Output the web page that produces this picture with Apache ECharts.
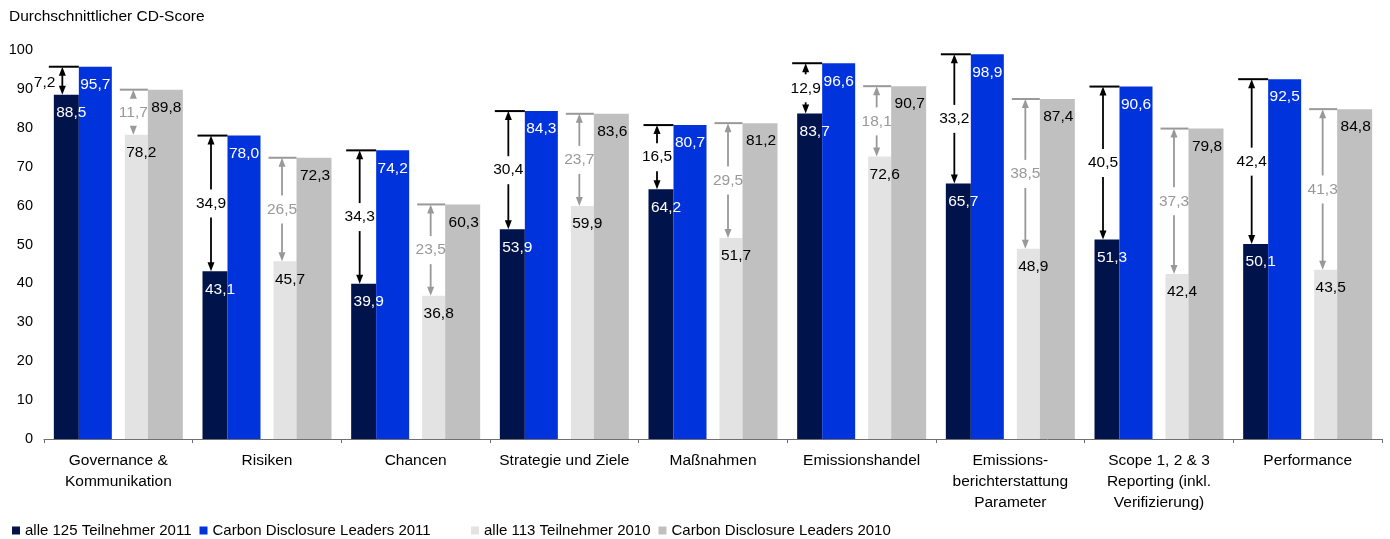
<!DOCTYPE html>
<html lang="de">
<head>
<meta charset="utf-8">
<title>Durchschnittlicher CD-Score</title>
<script src="https://cdn.jsdelivr.net/npm/echarts@6/dist/echarts.min.js"></script>
<style>
  html, body { margin: 0; padding: 0; background: #fff; }
  #chart { width: 1390px; height: 539px; }
</style>
</head>
<body>
<div id="chart"></div>
<script>
// Kategorien (Zeilenumbrüche wie in der Beschriftung)
const categories = [
  'Governance &\nKommunikation',
  'Risiken',
  'Chancen',
  'Strategie und Ziele',
  'Maßnahmen',
  'Emissionshandel',
  'Emissions-\nberichterstattung\nParameter',
  'Scope 1, 2 & 3\nReporting (inkl.\nVerifizierung)',
  'Performance'
];

// Durchschnittliche CD-Scores je Gruppe
const all2011      = [88.5, 43.1, 39.9, 53.9, 64.2, 83.7, 65.7, 51.3, 50.1];
const leaders2011  = [95.7, 78.0, 74.2, 84.3, 80.7, 96.6, 98.9, 90.6, 92.5];
const all2010      = [78.2, 45.7, 36.8, 59.9, 51.7, 72.6, 48.9, 42.4, 43.5];
const leaders2010  = [89.8, 72.3, 60.3, 83.6, 81.2, 90.7, 87.4, 79.8, 84.8];

// Ausgewiesene Abstände zwischen Leaders und allen Teilnehmern
const gap2011 = [7.2, 34.9, 34.3, 30.4, 16.5, 12.9, 33.2, 40.5, 42.4];
const gap2010 = [11.7, 26.5, 23.5, 23.7, 29.5, 18.1, 38.5, 37.3, 41.3];

// Legendeneinträge
const seriesNames = [
  'alle 125 Teilnehmer 2011',
  'Carbon Disclosure Leaders 2011',
  'alle 113 Teilnehmer 2010',
  'Carbon Disclosure Leaders 2010'
];

// Y-Achse
const yMin = 0, yMax = 100, yStep = 10;

// ---- Darstellung ----
const FONT = '"Liberation Sans", Arial, Helvetica, sans-serif';
const FS = 15.5;
const COLORS = ['#00134A', '#0033DC', '#E3E3E3', '#C0C0C0'];
const BAR_W = [25, 33, 13, 23, 35];        // dunkel, blau, Abstand, hellgrau, grau
const TOTAL_W = BAR_W.reduce((a, b) => a + b, 0);
// linke Kante jedes Balkens relativ zur Kategoriemitte
const barLeft = [];
{
  let x = -TOTAL_W / 2;
  BAR_W.forEach(w => { barLeft.push(x); x += w; });
}

const fmt = v => Number(v).toFixed(1).replace('.', ',');

function barSeries(name, data, color, width, labelColor, labelShift) {
  return {
    name: name,
    type: 'bar',
    data: data,
    barWidth: width,
    barGap: '0%',
    itemStyle: { color: color },
    animation: false,
    label: {
      show: true,
      position: 'insideTop',
      distance: 10,
      offset: [labelShift, 0],
      color: labelColor,
      fontFamily: FONT,
      fontSize: FS,
      formatter: p => fmt(p.value)
    }
  };
}

// Doppelpfeil vom niedrigeren zum höheren Balken mit Abstandswert
function gapSeries(low, high, gaps, lowIdx, highIdx, color) {
  const data = low.map((v, i) => [i, v, high[i], gaps[i]]);
  return {
    type: 'custom',
    z: 5,
    silent: true,
    animation: false,
    data: data,
    encode: { x: 0, y: [1, 2] },
    renderItem: function (params, api) {
      const i = api.value(0);
      const pLow = api.coord([i, api.value(1)]);
      const pHigh = api.coord([i, api.value(2)]);
      const cx = pLow[0];
      const lowLeft = cx + barLeft[lowIdx];
      const highLeft = cx + barLeft[highIdx];
      const ax = lowLeft + 8.5;
      const yT = pHigh[1];
      const yB = pLow[1];
      const head = 9, hw = 3.5;
      const text = fmt(api.value(3));
      const font = FS + 'px ' + FONT;
      const children = [
        { type: 'line', shape: { x1: lowLeft - 5, y1: yT, x2: highLeft, y2: yT },
          style: { stroke: color, lineWidth: 2 } },
        { type: 'polygon', shape: { points: [[ax, yT], [ax - hw, yT + head], [ax + hw, yT + head]] },
          style: { fill: color } },
        { type: 'polygon', shape: { points: [[ax, yB], [ax - hw, yB - head], [ax + hw, yB - head]] },
          style: { fill: color } }
      ];
      const mid = (yT + yB) / 2;
      if (yB - yT < 35) {
        children.push({ type: 'line', shape: { x1: ax, y1: yT + head - 1, x2: ax, y2: yB - head + 1 },
          style: { stroke: color, lineWidth: 1.8 } });
        children.push({ type: 'text', style: { text: text, x: ax - 7, y: mid + 2, align: 'right',
          verticalAlign: 'middle', fill: color, font: font } });
      } else {
        const g = 14;
        if (mid - g > yT + head) {
          children.push({ type: 'line', shape: { x1: ax, y1: yT + head - 1, x2: ax, y2: mid - g },
            style: { stroke: color, lineWidth: 1.8 } });
        }
        if (mid + g < yB - head) {
          children.push({ type: 'line', shape: { x1: ax, y1: mid + g, x2: ax, y2: yB - head + 1 },
            style: { stroke: color, lineWidth: 1.8 } });
        }
        children.push({ type: 'text', style: { text: text, x: ax, y: mid, align: 'center',
          verticalAlign: 'middle', fill: color, font: font } });
      }
      return { type: 'group', children: children };
    }
  };
}

const chart = echarts.init(document.getElementById('chart'), null, { renderer: 'canvas' });

const option = {
  animation: false,
  backgroundColor: '#ffffff',
  textStyle: { fontFamily: FONT, color: '#000' },
  title: {
    text: 'Durchschnittlicher CD-Score',
    left: 9,
    top: 9,
    padding: 0,
    textStyle: { fontFamily: FONT, fontSize: FS, fontWeight: 'normal', color: '#000' }
  },
  grid: { left: 44, right: 8, top: 50, bottom: 100, containLabel: false },
  legend: [
    {
      data: seriesNames.slice(0, 2),
      left: 12, top: 523, padding: 0,
      icon: 'rect', itemWidth: 8, itemHeight: 8, itemGap: 8,
      selectedMode: false,
      textStyle: { fontFamily: FONT, fontSize: 15, color: '#000' }
    },
    {
      data: seriesNames.slice(2, 4),
      left: 471, top: 523, padding: 0,
      icon: 'rect', itemWidth: 8, itemHeight: 8, itemGap: 8,
      selectedMode: false,
      textStyle: { fontFamily: FONT, fontSize: 15, color: '#000' }
    }
  ],
  xAxis: {
    type: 'category',
    data: categories,
    boundaryGap: true,
    axisLine: { show: true, lineStyle: { color: '#707070', width: 1 } },
    axisTick: { show: true, length: 4, lineStyle: { color: '#707070' } },
    axisLabel: {
      interval: 0,
      margin: 11,
      fontFamily: FONT,
      fontSize: FS,
      lineHeight: 21,
      color: '#000'
    },
    splitLine: { show: false }
  },
  yAxis: {
    type: 'value',
    min: yMin,
    max: yMax,
    interval: yStep,
    axisLine: { show: false },
    axisTick: { show: false },
    splitLine: { show: false },
    axisLabel: { margin: 11, fontFamily: FONT, fontSize: 14.5, color: '#000' }
  },
  series: [
    barSeries(seriesNames[0], all2011, COLORS[0], BAR_W[0], '#ffffff', 5),
    barSeries(seriesNames[1], leaders2011, COLORS[1], BAR_W[1], '#ffffff', 0),
    {
      type: 'bar', name: '', data: categories.map(() => null),
      barWidth: BAR_W[2], barGap: '0%', silent: true,
      itemStyle: { color: 'rgba(0,0,0,0)' }
    },
    barSeries(seriesNames[2], all2010, COLORS[2], BAR_W[3], '#000000', 5),
    barSeries(seriesNames[3], leaders2010, COLORS[3], BAR_W[4], '#000000', 1),
    gapSeries(all2011, leaders2011, gap2011, 0, 1, '#000000'),
    gapSeries(all2010, leaders2010, gap2010, 3, 4, '#999999')
  ]
};

chart.setOption(option);
</script>
</body>
</html>
